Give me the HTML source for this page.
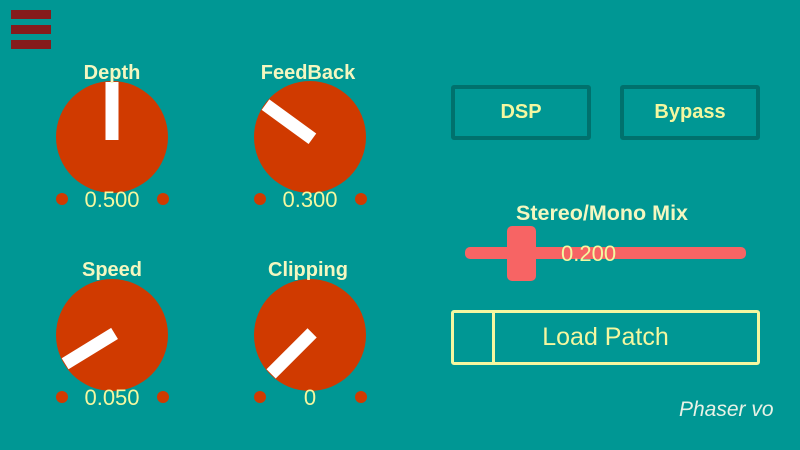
<!DOCTYPE html>
<html><head><meta charset="utf-8"><style>
body{margin:0;width:800px;height:450px;overflow:hidden;background:#009794;font-family:"Liberation Sans",sans-serif}
.a{position:absolute}
.lbl{position:absolute;color:#f4f7c0;font-weight:bold;font-size:20px;text-align:center;width:160px}
.btn{position:absolute;border:4px solid #00716d;border-radius:3px;color:#f4f7a0;font-weight:bold;font-size:20px;display:flex;align-items:center;justify-content:center;box-sizing:border-box}
</style></head><body>
<div class="a" style="left:11px;top:10px;width:40px;height:40px">
<div style="height:9px;background:#851b1c;margin-bottom:6px"></div><div style="height:9px;background:#851b1c;margin-bottom:6px"></div><div style="height:9px;background:#851b1c"></div></div>
<svg class="a" style="left:0;top:0" width="800" height="450" id="knobs"></svg>
<div class="lbl" style="left:32px;top:62px">Depth</div>
<div class="lbl" style="left:228px;top:62px">FeedBack</div>
<div class="lbl" style="left:32px;top:259px">Speed</div>
<div class="lbl" style="left:228px;top:259px">Clipping</div>
<div class="btn" style="left:451px;top:85px;width:140px;height:55px">DSP</div>
<div class="btn" style="left:620px;top:85px;width:140px;height:55px">Bypass</div>
<div class="lbl" style="left:497px;top:201px;width:210px;font-size:21.5px">Stereo/Mono Mix</div>
<div class="a" style="left:465px;top:247px;width:281px;height:12px;background:#f76464;border-radius:5px"></div>
<div class="a" style="left:507px;top:226px;width:29px;height:55px;background:#f76464;border-radius:5px"></div>
<div class="a" style="left:561px;top:241px;color:#f4f7a0;font-size:22px">0.200</div>
<div class="a" style="left:451px;top:310px;width:309px;height:55px;border:3px solid #f4f7a0;border-radius:3px;box-sizing:border-box;color:#f4f7a0;font-size:25px">
<div style="position:absolute;left:38px;top:0;bottom:0;width:3px;background:#f4f7a0"></div>
<div style="position:absolute;left:0;right:0;top:0;bottom:0;display:flex;align-items:center;justify-content:center">Load Patch</div></div>
<div class="a" style="left:679px;top:398px;color:#e8f2e6;font-style:italic;font-size:21px">Phaser vo</div>
<script>
const knobNames=["depth","feedback","speed","clipping"];
const knobValues=[0.5,0.3,0.05,0];
const knobLabels=["0.500","0.300","0.050","0"];
const cx=[112,310,112,310], cy=[137,137,335,335];
const svg=document.getElementById('knobs'),NS="http://www.w3.org/2000/svg";
function mk(t,a){const e=document.createElementNS(NS,t);for(const k in a)e.setAttribute(k,a[k]);svg.appendChild(e);return e;}
knobNames.forEach((n,i)=>{
 const x=cx[i],y=cy[i];
 const c=mk('circle',{cx:x,cy:y,r:56,fill:'#d03a00'});
 
 
 [x-50,x+51].forEach((dx,j)=>{const d=mk('circle',{cx:dx,cy:y+62,r:6,fill:'#d03a00'});
  
  });
 const ang=-135+270*knobValues[i];
 const p=mk('rect',{x:x-6.5,y:y-55,width:13,height:58,fill:'#fff',transform:`rotate(${ang} ${x} ${y})`});
 
 
 const t=mk('text',{x:x,y:y+70,'text-anchor':'middle',fill:'#f4f7a0','font-size':22,'font-family':'Liberation Sans, sans-serif'});
 t.textContent=knobLabels[i];
 
 
});
</script>
</body></html>
